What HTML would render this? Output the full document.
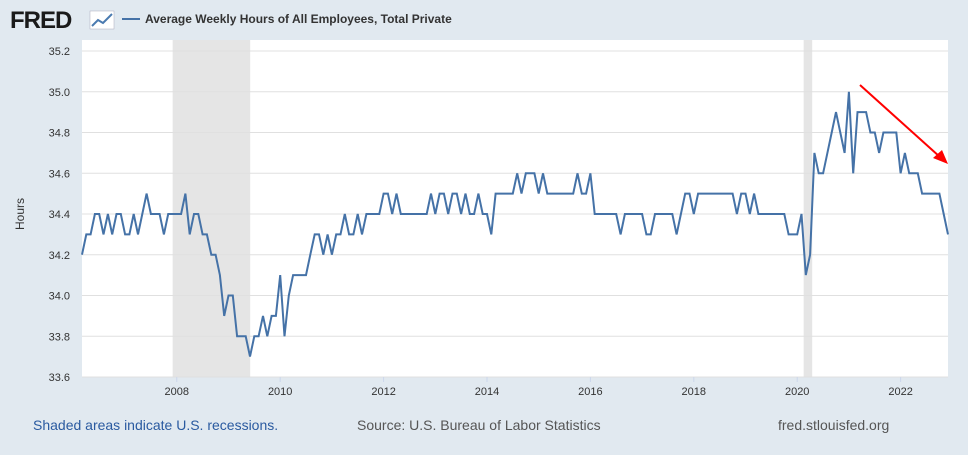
<!DOCTYPE html>
<html><head><meta charset="utf-8"><style>
body{margin:0;width:968px;height:450px;background:#e1e9f0;font-family:"Liberation Sans",sans-serif;overflow:hidden}
</style></head><body>
<svg width="968" height="450" xmlns="http://www.w3.org/2000/svg">
<g>
<text x="10" y="28" font-size="24" font-weight="bold" fill="#1a1a1a" font-family="Liberation Sans" letter-spacing="-1">FRED</text>
<rect x="90" y="11" width="24" height="18" fill="#fff" stroke="#aab" stroke-width="0.5"/>
<polyline points="92,26 98,20 103,23 112,14" fill="none" stroke="#4a7ab0" stroke-width="2"/>
</g>
<line x1="122" y1="19" x2="140" y2="19" stroke="#4572a7" stroke-width="2"/>
<text x="145" y="23" font-size="12" font-weight="bold" fill="#333">Average Weekly Hours of All Employees, Total Private</text>
<rect x="82" y="40" width="866" height="337" fill="#fff"/>
<g id="rec"></g><g id="grid"></g><g id="xt"></g>
<path id="line" fill="none" stroke="#4572a7" stroke-width="2"/>
<text x="24" y="214" font-size="12" fill="#333" transform="rotate(-90 24 214)" text-anchor="middle">Hours</text>
<line x1="860" y1="85" x2="940" y2="157" stroke="#f00" stroke-width="2"/>
<polygon points="948,164 933,158 942,150" fill="#f00"/>
<text x="33" y="430" font-size="14" fill="#2a5aa0">Shaded areas indicate U.S. recessions.</text>
<text x="357" y="430" font-size="14" fill="#555">Source: U.S. Bureau of Labor Statistics</text>
<text x="778" y="430" font-size="14" fill="#555">fred.stlouisfed.org</text>
</svg>
<script>
const values=[34.2,34.3,34.3,34.4,34.4,34.3,34.4,34.3,34.4,34.4,
34.3,34.3,34.4,34.3,34.4,34.5,34.4,34.4,34.4,34.3,
34.4,34.4,34.4,34.4,34.5,34.3,34.4,34.4,34.3,34.3,
34.2,34.2,34.1,33.9,34.0,34.0,33.8,33.8,33.8,33.7,
33.8,33.8,33.9,33.8,33.9,33.9,34.1,33.8,34.0,34.1,
34.1,34.1,34.1,34.2,34.3,34.3,34.2,34.3,34.2,34.3,
34.3,34.4,34.3,34.3,34.4,34.3,34.4,34.4,34.4,34.4,
34.5,34.5,34.4,34.5,34.4,34.4,34.4,34.4,34.4,34.4,
34.4,34.5,34.4,34.5,34.5,34.4,34.5,34.5,34.4,34.5,
34.4,34.4,34.5,34.4,34.4,34.3,34.5,34.5,34.5,34.5,
34.5,34.6,34.5,34.6,34.6,34.6,34.5,34.6,34.5,34.5,
34.5,34.5,34.5,34.5,34.5,34.6,34.5,34.5,34.6,34.4,
34.4,34.4,34.4,34.4,34.4,34.3,34.4,34.4,34.4,34.4,
34.4,34.3,34.3,34.4,34.4,34.4,34.4,34.4,34.3,34.4,
34.5,34.5,34.4,34.5,34.5,34.5,34.5,34.5,34.5,34.5,
34.5,34.5,34.4,34.5,34.5,34.4,34.5,34.4,34.4,34.4,
34.4,34.4,34.4,34.4,34.3,34.3,34.3,34.4,34.1,34.2,
34.7,34.6,34.6,34.7,34.8,34.9,34.8,34.7,35.0,34.6,
34.9,34.9,34.9,34.8,34.8,34.7,34.8,34.8,34.8,34.8,
34.6,34.7,34.6,34.6,34.6,34.5,34.5,34.5,34.5,34.5,
34.4,34.3];
const startYear=2006, startMonth=2;
const yTicks=[33.6,33.8,34.0,34.2,34.4,34.6,34.8,35.0,35.2];
const xTickYears=[2008,2010,2012,2014,2016,2018,2020,2022];
const recessions=[[2007.92,2009.42],[2020.125,2020.29]];
const NS="http://www.w3.org/2000/svg";
const x0=82,x1=948,y0=377,y1=51;
const t0=startYear+startMonth/12, t1=t0+(values.length-1)/12;
const X=t=>x0+(t-t0)/(t1-t0)*(x1-x0);
const Y=v=>y0-(v-33.6)/(35.2-33.6)*(y0-y1);
function mk(tag,a,parent){const e=document.createElementNS(NS,tag);for(const k in a)e.setAttribute(k,a[k]);document.getElementById(parent).appendChild(e);return e;}
recessions.forEach(r=>{const e=mk('rect',{x:X(r[0]),y:40,width:X(r[1])-X(r[0]),height:337,fill:'#e5e5e5'},'rec');

});
yTicks.forEach(v=>{const l=mk('line',{x1:x0,x2:x1,y1:Y(v),y2:Y(v),stroke:'#e0e0e0','stroke-width':1},'grid');


const t=mk('text',{x:70,y:Y(v)+4,'font-size':11,fill:'#333','text-anchor':'end'},'grid');


t.textContent=v.toFixed(1);});
xTickYears.forEach(yr=>{const x=X(yr);const t=mk('text',{x:x,y:395,'font-size':11,fill:'#333','text-anchor':'middle'},'xt');


t.textContent=yr;
const l=mk('line',{x1:x,x2:x,y1:377,y2:382,stroke:'#ccd6eb'},'xt');

});
document.getElementById('line').setAttribute('d',values.map((v,i)=>(i?'L':'M')+X(t0+i/12).toFixed(1)+','+Y(v).toFixed(1)).join(''));
</script>
</body></html>
